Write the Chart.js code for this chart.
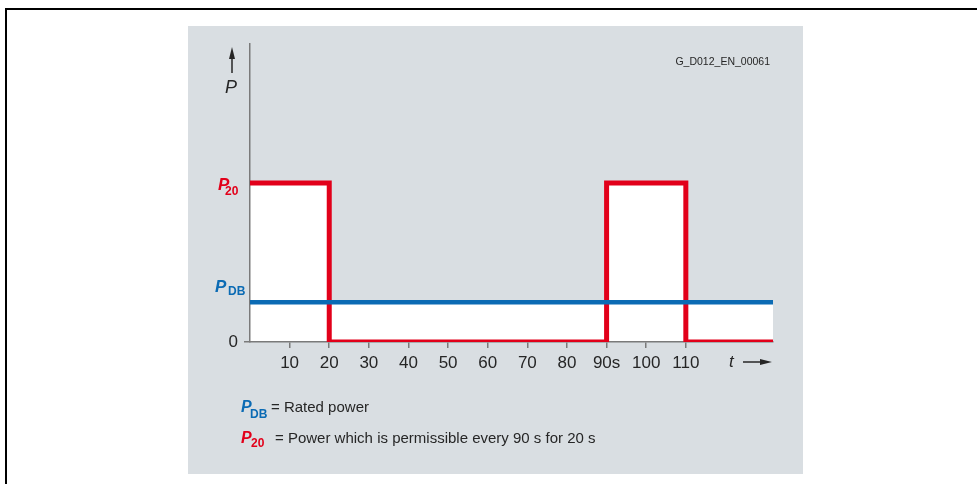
<!DOCTYPE html>
<html>
<head>
<meta charset="utf-8">
<script src="https://cdn.jsdelivr.net/npm/chart.js@4/dist/chart.umd.min.js"></script>
<style>
  html, body { margin: 0; padding: 0; background: #fff; width: 977px; height: 484px; overflow: hidden; }
  #frame { position: absolute; left: 5px; top: 8px; width: 980px; height: 490px;
           border-top: 2px solid #000; border-left: 2px solid #000; }
  #panel { position: absolute; left: 188px; top: 26px; width: 615px; height: 448px; background: #d9dee2; }
  #panel canvas { position: absolute; left: 0; top: 0; }
</style>
</head>
<body>
<div id="frame"></div>
<div id="panel"><canvas id="chart" width="615" height="448"></canvas></div>
<script>
// time points where the short-time power changes, and its level after each point
const timeSteps = [0, 20, 90, 110, 132];
const shortTimePower = [4, 0, 4, 0, 0];

// rated (continuous) power
const ratedTime = [0, 132];
const ratedPower = [1, 1];

const tickValues = [10, 20, 30, 40, 50, 60, 70, 80, 90, 100, 110];
const tickLabels = ['10', '20', '30', '40', '50', '60', '70', '80', '90s', '100', '110'];

const RED = '#e2001a';
const BLUE = '#0b6bb4';
const TEXT = '#262626';
const AXIS = '#7a7a7a';
const FONT = "'Liberation Sans', Arial, sans-serif";

// P with a subscript, e.g. P20 / PDB
function symbol(ctx, x, base, sub, color, pSize, subSize, subDx, subDy) {
    ctx.fillStyle = color;
    ctx.textAlign = 'left';
    ctx.textBaseline = 'alphabetic';
    ctx.font = `italic bold ${pSize}px ${FONT}`;
    ctx.fillText('P', x, base);
    ctx.font = `bold ${subSize}px ${FONT}`;
    ctx.fillText(sub, x + subDx, base + subDy);
}

const annotations = {
    id: 'annotations',
    afterDraw(chart) {
        const ctx = chart.ctx;
        const y = chart.scales.y;
        const x = chart.scales.x;
        ctx.save();

        // level labels next to the power axis
        const y20 = y.getPixelForValue(shortTimePower[0]);
        symbol(ctx, 30, y20 + 7, '20', RED, 17, 12, 7, 5);
        const yDb = y.getPixelForValue(ratedPower[0]);
        symbol(ctx, 27, yDb - 10, 'DB', BLUE, 17, 12, 13, 3);

        // power axis arrow and name
        ctx.strokeStyle = TEXT;
        ctx.fillStyle = TEXT;
        ctx.lineWidth = 1.5;
        ctx.beginPath();
        ctx.moveTo(44, 47);
        ctx.lineTo(44, 31);
        ctx.stroke();
        ctx.beginPath();
        ctx.moveTo(44, 21);
        ctx.lineTo(47, 33);
        ctx.lineTo(41, 33);
        ctx.closePath();
        ctx.fill();
        ctx.font = `italic 18px ${FONT}`;
        ctx.textAlign = 'left';
        ctx.textBaseline = 'alphabetic';
        ctx.fillText('P', 37, 67);

        // time axis name and arrow
        const ty = x.bottom - 10;
        ctx.font = `italic 17px ${FONT}`;
        ctx.textBaseline = 'middle';
        ctx.fillText('t', 541, ty);
        ctx.beginPath();
        ctx.moveTo(555, ty);
        ctx.lineTo(574, ty);
        ctx.stroke();
        ctx.beginPath();
        ctx.moveTo(584, ty);
        ctx.lineTo(572, ty - 3);
        ctx.lineTo(572, ty + 3);
        ctx.closePath();
        ctx.fill();

        // drawing number
        ctx.font = `10.5px ${FONT}`;
        ctx.textAlign = 'right';
        ctx.fillText('G_D012_EN_00061', 582, 36);

        // key
        symbol(ctx, 53, 386, 'DB', BLUE, 16, 12, 9, 6);
        symbol(ctx, 53, 417, '20', RED, 16, 12, 10, 4);
        ctx.fillStyle = TEXT;
        ctx.font = `15px ${FONT}`;
        ctx.textAlign = 'left';
        ctx.textBaseline = 'alphabetic';
        ctx.fillText('= Rated power', 83, 386);
        ctx.fillText('= Power which is permissible every 90 s for 20 s', 87, 417);

        ctx.restore();
    }
};

new Chart(document.getElementById('chart'), {
    type: 'line',
    data: {
        datasets: [
            {
                label: 'PDB',
                data: ratedTime.map((t, i) => ({ x: t, y: ratedPower[i] })),
                borderColor: BLUE,
                borderWidth: 4.5,
                backgroundColor: '#ffffff',
                fill: 'origin',
                pointRadius: 0,
                borderCapStyle: 'butt'
            },
            {
                label: 'P20',
                data: timeSteps.map((t, i) => ({ x: t, y: shortTimePower[i] })),
                // hold each level until the next change
                stepped: 'before',
                borderColor: RED,
                borderWidth: 5,
                backgroundColor: '#ffffff',
                fill: 'origin',
                pointRadius: 0,
                borderCapStyle: 'butt',
                borderJoinStyle: 'miter'
            }
        ]
    },
    options: {
        responsive: false,
        animation: false,
        events: [],
        layout: { padding: { left: 32, right: 30, top: 18, bottom: 102 } },
        plugins: {
            legend: { display: false },
            tooltip: { enabled: false },
            filler: { drawTime: 'beforeDraw' }
        },
        scales: {
            x: {
                type: 'linear',
                min: 0,
                max: 132,
                afterBuildTicks: (scale) => { scale.ticks = tickValues.map(v => ({ value: v })); },
                afterFit: (scale) => { scale.height = 30; },
                ticks: {
                    autoSkip: false,
                    maxRotation: 0,
                    padding: 5,
                    color: TEXT,
                    font: { family: FONT, size: 17 },
                    callback: (v) => tickLabels[tickValues.indexOf(v)]
                },
                grid: { drawOnChartArea: false, tickLength: 6, color: AXIS, lineWidth: 1.5 },
                border: { color: AXIS, width: 1.5 }
            },
            y: {
                min: 0,
                max: 7.5,
                afterBuildTicks: (scale) => { scale.ticks = [{ value: 0 }]; },
                afterFit: (scale) => { scale.width = 30; },
                ticks: {
                    padding: 6,
                    color: TEXT,
                    font: { family: FONT, size: 17 },
                    callback: () => '0'
                },
                grid: { drawOnChartArea: false, tickLength: 6, color: AXIS, lineWidth: 1.5 },
                border: { color: AXIS, width: 1.5 }
            }
        }
    },
    plugins: [annotations]
});
</script>
</body>
</html>
